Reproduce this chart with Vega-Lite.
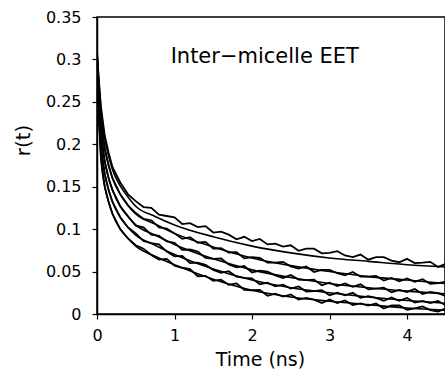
{
  "$schema": "https://vega.github.io/schema/vega-lite/v6.json",
  "width": 348,
  "height": 297,
  "autosize": {"type": "none"},
  "padding": {"left": 97, "top": 17, "right": 0, "bottom": 59},
  "background": "white",
  "config": {
    "view": {"stroke": "black", "strokeWidth": 1.5},
    "font": "DejaVu Sans",
    "axis": {
      "domainColor": "black", "domainWidth": 1.5, "tickColor": "black", "tickWidth": 1.2, "tickSize": 5,
      "grid": false, "labelColor": "black", "titleColor": "black", "labelFont": "DejaVu Sans", "titleFont": "DejaVu Sans",
      "labelFontSize": 16, "titleFontWeight": "normal"
    }
  },
  "datasets": {
    "obs": [
      {"t":0,"r":0.31,"s":"d1"},{"t":0.02,"r":0.28,"s":"d1"},{"t":0.05,"r":0.245,"s":"d1"},{"t":0.1,"r":0.21,"s":"d1"},{"t":0.15,"r":0.19,"s":"d1"},{"t":0.2,"r":0.173,"s":"d1"},{"t":0.3,"r":0.155,"s":"d1"},{"t":0.4,"r":0.141,"s":"d1"},
      {"t":0.5,"r":0.133,"s":"d1"},{"t":0.6,"r":0.126,"s":"d1"},{"t":0.7,"r":0.125,"s":"d1"},{"t":0.8,"r":0.117,"s":"d1"},{"t":0.9,"r":0.1155,"s":"d1"},{"t":1,"r":0.114,"s":"d1"},{"t":1.1,"r":0.106,"s":"d1"},{"t":1.2,"r":0.107,"s":"d1"},{"t":1.3,"r":0.1025,"s":"d1"},{"t":1.4,"r":0.1035,"s":"d1"},{"t":1.5,"r":0.096,"s":"d1"},{"t":1.6,"r":0.097,"s":"d1"},{"t":1.7,"r":0.0935,"s":"d1"},{"t":1.8,"r":0.088,"s":"d1"},{"t":1.9,"r":0.091,"s":"d1"},{"t":2,"r":0.086,"s":"d1"},{"t":2.1,"r":0.0885,"s":"d1"},{"t":2.2,"r":0.082,"s":"d1"},{"t":2.3,"r":0.083,"s":"d1"},{"t":2.4,"r":0.0795,"s":"d1"},{"t":2.5,"r":0.081,"s":"d1"},{"t":2.6,"r":0.0745,"s":"d1"},{"t":2.7,"r":0.077,"s":"d1"},{"t":2.8,"r":0.077,"s":"d1"},{"t":2.9,"r":0.0715,"s":"d1"},{"t":3,"r":0.072,"s":"d1"},{"t":3.1,"r":0.074,"s":"d1"},{"t":3.2,"r":0.069,"s":"d1"},{"t":3.3,"r":0.067,"s":"d1"},{"t":3.4,"r":0.07,"s":"d1"},{"t":3.5,"r":0.064,"s":"d1"},{"t":3.6,"r":0.067,"s":"d1"},{"t":3.7,"r":0.067,"s":"d1"},{"t":3.8,"r":0.063,"s":"d1"},{"t":3.9,"r":0.061,"s":"d1"},{"t":4,"r":0.065,"s":"d1"},{"t":4.1,"r":0.06,"s":"d1"},{"t":4.2,"r":0.0605,"s":"d1"},{"t":4.3,"r":0.0615,"s":"d1"},{"t":4.4,"r":0.0555,"s":"d1"},{"t":4.5,"r":0.059,"s":"d1"},{"t":4.6,"r":0.055,"s":"d1"},

      {"t":0,"r":0.305,"s":"d2"},{"t":0.02,"r":0.27,"s":"d2"},{"t":0.05,"r":0.23,"s":"d2"},{"t":0.1,"r":0.195,"s":"d2"},{"t":0.15,"r":0.175,"s":"d2"},{"t":0.2,"r":0.16,"s":"d2"},{"t":0.3,"r":0.141,"s":"d2"},{"t":0.4,"r":0.128,"s":"d2"},
      {"t":0.5,"r":0.119,"s":"d2"},{"t":0.6,"r":0.112,"s":"d2"},{"t":0.7,"r":0.1105,"s":"d2"},{"t":0.8,"r":0.102,"s":"d2"},{"t":0.9,"r":0.1005,"s":"d2"},{"t":1,"r":0.095,"s":"d2"},{"t":1.1,"r":0.0885,"s":"d2"},{"t":1.2,"r":0.0905,"s":"d2"},{"t":1.3,"r":0.084,"s":"d2"},{"t":1.4,"r":0.085,"s":"d2"},{"t":1.5,"r":0.077,"s":"d2"},{"t":1.6,"r":0.0775,"s":"d2"},{"t":1.7,"r":0.0725,"s":"d2"},{"t":1.8,"r":0.073,"s":"d2"},{"t":1.9,"r":0.0655,"s":"d2"},{"t":2,"r":0.067,"s":"d2"},{"t":2.1,"r":0.066,"s":"d2"},{"t":2.2,"r":0.0605,"s":"d2"},{"t":2.3,"r":0.0605,"s":"d2"},{"t":2.4,"r":0.0615,"s":"d2"},{"t":2.5,"r":0.056,"s":"d2"},{"t":2.6,"r":0.0535,"s":"d2"},{"t":2.7,"r":0.056,"s":"d2"},{"t":2.8,"r":0.0495,"s":"d2"},{"t":2.9,"r":0.052,"s":"d2"},{"t":3,"r":0.052,"s":"d2"},{"t":3.1,"r":0.048,"s":"d2"},{"t":3.2,"r":0.0455,"s":"d2"},{"t":3.3,"r":0.0495,"s":"d2"},{"t":3.4,"r":0.044,"s":"d2"},{"t":3.5,"r":0.044,"s":"d2"},{"t":3.6,"r":0.045,"s":"d2"},{"t":3.7,"r":0.0395,"s":"d2"},{"t":3.8,"r":0.0425,"s":"d2"},{"t":3.9,"r":0.0385,"s":"d2"},{"t":4,"r":0.042,"s":"d2"},{"t":4.1,"r":0.038,"s":"d2"},{"t":4.2,"r":0.041,"s":"d2"},{"t":4.3,"r":0.0355,"s":"d2"},{"t":4.4,"r":0.0365,"s":"d2"},{"t":4.5,"r":0.038,"s":"d2"},{"t":4.6,"r":0.032,"s":"d2"},

      {"t":0,"r":0.3,"s":"d3"},{"t":0.02,"r":0.26,"s":"d3"},{"t":0.05,"r":0.215,"s":"d3"},{"t":0.1,"r":0.18,"s":"d3"},{"t":0.15,"r":0.16,"s":"d3"},{"t":0.2,"r":0.146,"s":"d3"},{"t":0.3,"r":0.127,"s":"d3"},{"t":0.4,"r":0.115,"s":"d3"},
      {"t":0.5,"r":0.104,"s":"d3"},{"t":0.6,"r":0.102,"s":"d3"},{"t":0.7,"r":0.0935,"s":"d3"},{"t":0.8,"r":0.092,"s":"d3"},{"t":0.9,"r":0.0855,"s":"d3"},{"t":1,"r":0.084,"s":"d3"},{"t":1.1,"r":0.0755,"s":"d3"},{"t":1.2,"r":0.076,"s":"d3"},{"t":1.3,"r":0.0735,"s":"d3"},{"t":1.4,"r":0.066,"s":"d3"},{"t":1.5,"r":0.065,"s":"d3"},{"t":1.6,"r":0.0655,"s":"d3"},{"t":1.7,"r":0.0585,"s":"d3"},{"t":1.8,"r":0.055,"s":"d3"},{"t":1.9,"r":0.0565,"s":"d3"},{"t":2,"r":0.049,"s":"d3"},{"t":2.1,"r":0.051,"s":"d3"},{"t":2.2,"r":0.05,"s":"d3"},{"t":2.3,"r":0.0455,"s":"d3"},{"t":2.4,"r":0.0425,"s":"d3"},{"t":2.5,"r":0.046,"s":"d3"},{"t":2.6,"r":0.0405,"s":"d3"},{"t":2.7,"r":0.04,"s":"d3"},{"t":2.8,"r":0.0405,"s":"d3"},{"t":2.9,"r":0.034,"s":"d3"},{"t":3,"r":0.037,"s":"d3"},{"t":3.1,"r":0.033,"s":"d3"},{"t":3.2,"r":0.036,"s":"d3"},{"t":3.3,"r":0.032,"s":"d3"},{"t":3.4,"r":0.035,"s":"d3"},{"t":3.5,"r":0.029,"s":"d3"},{"t":3.6,"r":0.03,"s":"d3"},{"t":3.7,"r":0.031,"s":"d3"},{"t":3.8,"r":0.0255,"s":"d3"},{"t":3.9,"r":0.0285,"s":"d3"},{"t":4,"r":0.026,"s":"d3"},{"t":4.1,"r":0.0295,"s":"d3"},{"t":4.2,"r":0.0235,"s":"d3"},{"t":4.3,"r":0.026,"s":"d3"},{"t":4.4,"r":0.0245,"s":"d3"},{"t":4.5,"r":0.021,"s":"d3"},{"t":4.6,"r":0.025,"s":"d3"},

      {"t":0,"r":0.3,"s":"d4"},{"t":0.02,"r":0.25,"s":"d4"},{"t":0.05,"r":0.2,"s":"d4"},{"t":0.1,"r":0.165,"s":"d4"},{"t":0.15,"r":0.146,"s":"d4"},{"t":0.2,"r":0.132,"s":"d4"},{"t":0.3,"r":0.114,"s":"d4"},{"t":0.4,"r":0.102,"s":"d4"},
      {"t":0.5,"r":0.095,"s":"d4"},{"t":0.6,"r":0.086,"s":"d4"},{"t":0.7,"r":0.0835,"s":"d4"},{"t":0.8,"r":0.082,"s":"d4"},{"t":0.9,"r":0.0735,"s":"d4"},{"t":1,"r":0.068,"s":"d4"},{"t":1.1,"r":0.0685,"s":"d4"},{"t":1.2,"r":0.06,"s":"d4"},{"t":1.3,"r":0.0605,"s":"d4"},{"t":1.4,"r":0.058,"s":"d4"},{"t":1.5,"r":0.052,"s":"d4"},{"t":1.6,"r":0.0485,"s":"d4"},{"t":1.7,"r":0.0505,"s":"d4"},{"t":1.8,"r":0.044,"s":"d4"},{"t":1.9,"r":0.0425,"s":"d4"},{"t":2,"r":0.042,"s":"d4"},{"t":2.1,"r":0.035,"s":"d4"},{"t":2.2,"r":0.037,"s":"d4"},{"t":2.3,"r":0.0325,"s":"d4"},{"t":2.4,"r":0.0345,"s":"d4"},{"t":2.5,"r":0.03,"s":"d4"},{"t":2.6,"r":0.0325,"s":"d4"},{"t":2.7,"r":0.0265,"s":"d4"},{"t":2.8,"r":0.027,"s":"d4"},{"t":2.9,"r":0.028,"s":"d4"},{"t":3,"r":0.022,"s":"d4"},{"t":3.1,"r":0.025,"s":"d4"},{"t":3.2,"r":0.022,"s":"d4"},{"t":3.3,"r":0.025,"s":"d4"},{"t":3.4,"r":0.019,"s":"d4"},{"t":3.5,"r":0.021,"s":"d4"},{"t":3.6,"r":0.019,"s":"d4"},{"t":3.7,"r":0.0155,"s":"d4"},{"t":3.8,"r":0.0195,"s":"d4"},{"t":3.9,"r":0.0155,"s":"d4"},{"t":4,"r":0.019,"s":"d4"},{"t":4.1,"r":0.0135,"s":"d4"},{"t":4.2,"r":0.0155,"s":"d4"},{"t":4.3,"r":0.013,"s":"d4"},{"t":4.4,"r":0.0155,"s":"d4"},{"t":4.5,"r":0.01,"s":"d4"},{"t":4.6,"r":0.013,"s":"d4"},

      {"t":0,"r":0.295,"s":"d5"},{"t":0.02,"r":0.24,"s":"d5"},{"t":0.05,"r":0.185,"s":"d5"},{"t":0.1,"r":0.15,"s":"d5"},{"t":0.15,"r":0.132,"s":"d5"},{"t":0.2,"r":0.118,"s":"d5"},{"t":0.3,"r":0.1,"s":"d5"},{"t":0.4,"r":0.089,"s":"d5"},
      {"t":0.5,"r":0.081,"s":"d5"},{"t":0.6,"r":0.077,"s":"d5"},{"t":0.7,"r":0.0695,"s":"d5"},{"t":0.8,"r":0.064,"s":"d5"},{"t":0.9,"r":0.065,"s":"d5"},{"t":1,"r":0.057,"s":"d5"},{"t":1.1,"r":0.0545,"s":"d5"},{"t":1.2,"r":0.053,"s":"d5"},{"t":1.3,"r":0.0445,"s":"d5"},{"t":1.4,"r":0.045,"s":"d5"},{"t":1.5,"r":0.039,"s":"d5"},{"t":1.6,"r":0.0405,"s":"d5"},{"t":1.7,"r":0.0345,"s":"d5"},{"t":1.8,"r":0.036,"s":"d5"},{"t":1.9,"r":0.0285,"s":"d5"},{"t":2,"r":0.028,"s":"d5"},{"t":2.1,"r":0.0285,"s":"d5"},{"t":2.2,"r":0.0215,"s":"d5"},{"t":2.3,"r":0.024,"s":"d5"},{"t":2.4,"r":0.0205,"s":"d5"},{"t":2.5,"r":0.023,"s":"d5"},{"t":2.6,"r":0.017,"s":"d5"},{"t":2.7,"r":0.019,"s":"d5"},{"t":2.8,"r":0.017,"s":"d5"},{"t":2.9,"r":0.013,"s":"d5"},{"t":3,"r":0.017,"s":"d5"},{"t":3.1,"r":0.013,"s":"d5"},{"t":3.2,"r":0.016,"s":"d5"},{"t":3.3,"r":0.0105,"s":"d5"},{"t":3.4,"r":0.0125,"s":"d5"},{"t":3.5,"r":0.01,"s":"d5"},{"t":3.6,"r":0.0125,"s":"d5"},{"t":3.7,"r":0.0065,"s":"d5"},{"t":3.8,"r":0.01,"s":"d5"},{"t":3.9,"r":0.01,"s":"d5"},{"t":4,"r":0.005,"s":"d5"},{"t":4.1,"r":0.0065,"s":"d5"},{"t":4.2,"r":0.009,"s":"d5"},{"t":4.3,"r":0.0045,"s":"d5"},{"t":4.4,"r":0.003,"s":"d5"},{"t":4.5,"r":0.0065,"s":"d5"},{"t":4.6,"r":0.001,"s":"d5"}
    ],
    "fits": [
      {"t":0,"r":0.31,"s":"f1"},{"t":0.02,"r":0.28,"s":"f1"},{"t":0.05,"r":0.243,"s":"f1"},{"t":0.1,"r":0.207,"s":"f1"},{"t":0.15,"r":0.186,"s":"f1"},{"t":0.2,"r":0.17,"s":"f1"},{"t":0.3,"r":0.151,"s":"f1"},{"t":0.4,"r":0.138,"s":"f1"},{"t":0.5,"r":0.127,"s":"f1"},{"t":0.75,"r":0.115,"s":"f1"},{"t":1,"r":0.105,"s":"f1"},{"t":1.5,"r":0.091,"s":"f1"},{"t":2,"r":0.08,"s":"f1"},{"t":2.5,"r":0.072,"s":"f1"},{"t":3,"r":0.066,"s":"f1"},{"t":3.5,"r":0.062,"s":"f1"},{"t":4,"r":0.058,"s":"f1"},{"t":4.6,"r":0.055,"s":"f1"},
      {"t":0,"r":0.305,"s":"f2"},{"t":0.02,"r":0.27,"s":"f2"},{"t":0.05,"r":0.23,"s":"f2"},{"t":0.1,"r":0.195,"s":"f2"},{"t":0.15,"r":0.175,"s":"f2"},{"t":0.2,"r":0.16,"s":"f2"},{"t":0.3,"r":0.141,"s":"f2"},{"t":0.4,"r":0.128,"s":"f2"},{"t":0.5,"r":0.118,"s":"f2"},{"t":0.75,"r":0.106,"s":"f2"},{"t":1,"r":0.095,"s":"f2"},{"t":1.5,"r":0.079,"s":"f2"},{"t":2,"r":0.066,"s":"f2"},{"t":2.5,"r":0.057,"s":"f2"},{"t":3,"r":0.05,"s":"f2"},{"t":3.5,"r":0.044,"s":"f2"},{"t":4,"r":0.04,"s":"f2"},{"t":4.6,"r":0.035,"s":"f2"},
      {"t":0,"r":0.3,"s":"f3"},{"t":0.02,"r":0.26,"s":"f3"},{"t":0.05,"r":0.215,"s":"f3"},{"t":0.1,"r":0.18,"s":"f3"},{"t":0.15,"r":0.16,"s":"f3"},{"t":0.2,"r":0.146,"s":"f3"},{"t":0.3,"r":0.127,"s":"f3"},{"t":0.4,"r":0.115,"s":"f3"},{"t":0.5,"r":0.105,"s":"f3"},{"t":0.75,"r":0.093,"s":"f3"},{"t":1,"r":0.082,"s":"f3"},{"t":1.5,"r":0.065,"s":"f3"},{"t":2,"r":0.052,"s":"f3"},{"t":2.5,"r":0.043,"s":"f3"},{"t":3,"r":0.036,"s":"f3"},{"t":3.5,"r":0.031,"s":"f3"},{"t":4,"r":0.027,"s":"f3"},{"t":4.6,"r":0.023,"s":"f3"},
      {"t":0,"r":0.3,"s":"f4"},{"t":0.02,"r":0.25,"s":"f4"},{"t":0.05,"r":0.2,"s":"f4"},{"t":0.1,"r":0.165,"s":"f4"},{"t":0.15,"r":0.146,"s":"f4"},{"t":0.2,"r":0.132,"s":"f4"},{"t":0.3,"r":0.114,"s":"f4"},{"t":0.4,"r":0.102,"s":"f4"},{"t":0.5,"r":0.093,"s":"f4"},{"t":0.75,"r":0.081,"s":"f4"},{"t":1,"r":0.07,"s":"f4"},{"t":1.5,"r":0.053,"s":"f4"},{"t":2,"r":0.04,"s":"f4"},{"t":2.5,"r":0.031,"s":"f4"},{"t":3,"r":0.025,"s":"f4"},{"t":3.5,"r":0.02,"s":"f4"},{"t":4,"r":0.016,"s":"f4"},{"t":4.6,"r":0.012,"s":"f4"},
      {"t":0,"r":0.295,"s":"f5"},{"t":0.02,"r":0.24,"s":"f5"},{"t":0.05,"r":0.185,"s":"f5"},{"t":0.1,"r":0.15,"s":"f5"},{"t":0.15,"r":0.132,"s":"f5"},{"t":0.2,"r":0.118,"s":"f5"},{"t":0.3,"r":0.1,"s":"f5"},{"t":0.4,"r":0.089,"s":"f5"},{"t":0.5,"r":0.08,"s":"f5"},{"t":0.75,"r":0.068,"s":"f5"},{"t":1,"r":0.058,"s":"f5"},{"t":1.5,"r":0.041,"s":"f5"},{"t":2,"r":0.028,"s":"f5"},{"t":2.5,"r":0.02,"s":"f5"},{"t":3,"r":0.015,"s":"f5"},{"t":3.5,"r":0.011,"s":"f5"},{"t":4,"r":0.007,"s":"f5"},{"t":4.6,"r":0.004,"s":"f5"}
    ],
    "note": [{"t": 0.95, "r": 0.296, "label": "Inter−micelle EET"}]
  },
  "encoding": {
    "x": {
      "field": "t", "type": "quantitative",
      "scale": {"domain": [0, 4.49], "nice": false, "zero": false},
      "axis": {
        "values": [0, 0.5, 1, 1.5, 2, 2.5, 3, 3.5, 4, 4.5],
        "labelExpr": "datum.value % 1 === 0 ? datum.label : ''",
        "format": "d",
        "labelPadding": 8, "labelBaseline": "top", "labelFlush": false,
        "title": "Time (ns)", "titleFontSize": 19, "titleX": 163, "titleY": 51, "titleBaseline": "alphabetic", "titleAnchor": null, "titleAlign": "center"
      }
    },
    "y": {
      "field": "r", "type": "quantitative",
      "scale": {"domain": [0, 0.35], "nice": false},
      "axis": {
        "values": [0, 0.05, 0.1, 0.15, 0.2, 0.25, 0.3, 0.35],
        "format": ".2~f",
        "labelPadding": 11, "labelFlush": false,
        "title": "r(t)", "titleFontSize": 20, "titleX": -68, "titleY": 123, "titleAngle": -90, "titleBaseline": "alphabetic", "titleAlign": "center", "titleAnchor": null
      }
    }
  },
  "layer": [
    {
      "data": {"name": "obs"},
      "mark": {"type": "line", "color": "black", "strokeWidth": 1.8, "clip": true},
      "encoding": {"detail": {"field": "s"}}
    },
    {
      "data": {"name": "fits"},
      "mark": {"type": "line", "color": "black", "strokeWidth": 1.6, "interpolate": "monotone", "clip": true},
      "encoding": {"detail": {"field": "s"}}
    },
    {
      "data": {"name": "note"},
      "mark": {"type": "text", "align": "left", "baseline": "alphabetic", "fontSize": 21, "font": "DejaVu Sans", "color": "black"},
      "encoding": {"text": {"field": "label"}}
    }
  ]
}
